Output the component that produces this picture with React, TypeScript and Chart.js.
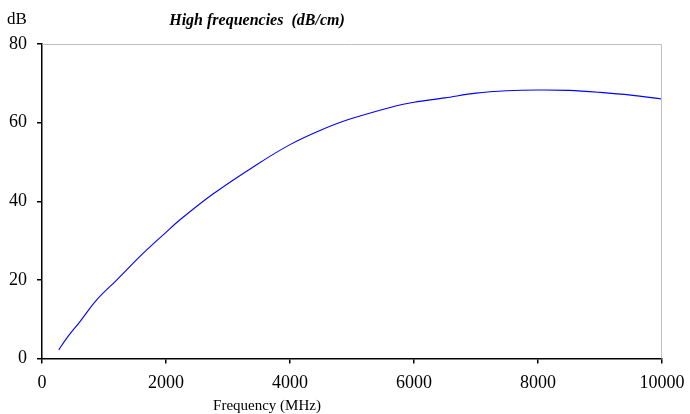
import React, { useEffect, useRef } from "react";
import { Chart, registerables } from "chart.js";

Chart.register(...registerables);

const frequencies = [270, 400, 613, 882, 1200, 1634, 2000, 2226, 2763, 3462, 4000, 4484, 4968, 5720, 6000, 6500, 7000, 7500, 8000, 8500, 9000, 9500, 10000];
const attenuation = [2.2, 5.2, 9.4, 14.9, 19.9, 26.8, 32.1, 35.3, 41.9, 49.3, 54.4, 58.0, 60.9, 64.3, 65.2, 66.3, 67.5, 68.1, 68.3, 68.2, 67.7, 67.0, 66.0];
const xTicks = [0, 2000, 4000, 6000, 8000, 10000];
const yTicks = [0, 20, 40, 60, 80];
const titleText = "High frequencies  (dB/cm)";
const yUnit = "dB";
const xTitle = "Frequency (MHz)";

const FONT = "'Liberation Serif', 'Times New Roman', serif";

const textPlugin = {
  id: "texts",
  afterDraw(chart: any) {
    const ctx = chart.ctx;
    const a = chart.chartArea;
    ctx.save();
    ctx.strokeStyle = "#c0c0c0";
    ctx.lineWidth = 1;
    ctx.beginPath();
    ctx.moveTo(a.left, a.top + 0.5);
    ctx.lineTo(a.right - 0.5, a.top + 0.5);
    ctx.lineTo(a.right - 0.5, a.bottom);
    ctx.stroke();
    ctx.fillStyle = "#000";
    ctx.textBaseline = "middle";
    ctx.textAlign = "center";
    ctx.font = `bold italic 16px ${FONT}`;
    ctx.fillText(titleText, 257, 21);
    ctx.font = `17px ${FONT}`;
    ctx.textAlign = "left";
    ctx.fillText(yUnit, 7, 20);
    ctx.textAlign = "center";
    ctx.font = `15px ${FONT}`;
    ctx.fillText(xTitle, 267, 406);
    ctx.restore();
  },
};

export default function App() {
  const ref = useRef<HTMLCanvasElement>(null);
  useEffect(() => {
    document.body.style.margin = "0";
    const data = frequencies.map((f, i) => ({ x: f, y: attenuation[i] }));
    const chart = new Chart(ref.current!, {
      type: "line",
      data: {
        datasets: [
          {
            data,
            borderColor: "#0000ff",
            borderWidth: 1.1,
            pointRadius: 0,
            tension: 0.35,
            fill: false,
          },
        ],
      },
      options: {
        animation: false,
        responsive: false,
        maintainAspectRatio: false,
        layout: { padding: { top: 44, right: 28, left: 0, bottom: 0 } },
        plugins: { legend: { display: false }, title: { display: false }, tooltip: { enabled: false } },
        scales: {
          x: {
            type: "linear",
            min: 0,
            max: 10000,
            afterBuildTicks: (s: any) => {
              s.ticks = xTicks.map((v) => ({ value: v }));
            },
            afterFit: (s: any) => {
              s.height = 55.5;
              s.paddingRight = 0;
              s.paddingLeft = 0;
            },
            grid: { display: true, drawOnChartArea: false, drawTicks: true, tickLength: 5, color: "#000", lineWidth: 1.5 },
            border: { display: true, color: "#000", width: 1.5 },
            ticks: {
              color: "#000",
              font: { family: FONT, size: 18 },
              padding: 9,
              maxRotation: 0,
              autoSkip: false,
              callback: (v: any) => String(v),
            },
          },
          y: {
            type: "linear",
            min: 0,
            max: 80,
            afterBuildTicks: (s: any) => {
              s.ticks = yTicks.map((v) => ({ value: v }));
            },
            afterFit: (s: any) => {
              s.width = 42;
              s.paddingTop = 0;
              s.paddingBottom = 0;
            },
            grid: { display: true, drawOnChartArea: false, drawTicks: true, tickLength: 5, color: "#000", lineWidth: 1.5 },
            border: { display: true, color: "#000", width: 1.5 },
            ticks: { color: "#000", font: { family: FONT, size: 18 }, padding: 10, callback: (v: any) => String(v) },
          },
        },
      },
      plugins: [textPlugin],
    });
    return () => chart.destroy();
  }, []);
  return (
    <div style={{ width: 690, height: 414 }}>
      <canvas ref={ref} width={690} height={414} style={{ display: "block" }} />
    </div>
  );
}
